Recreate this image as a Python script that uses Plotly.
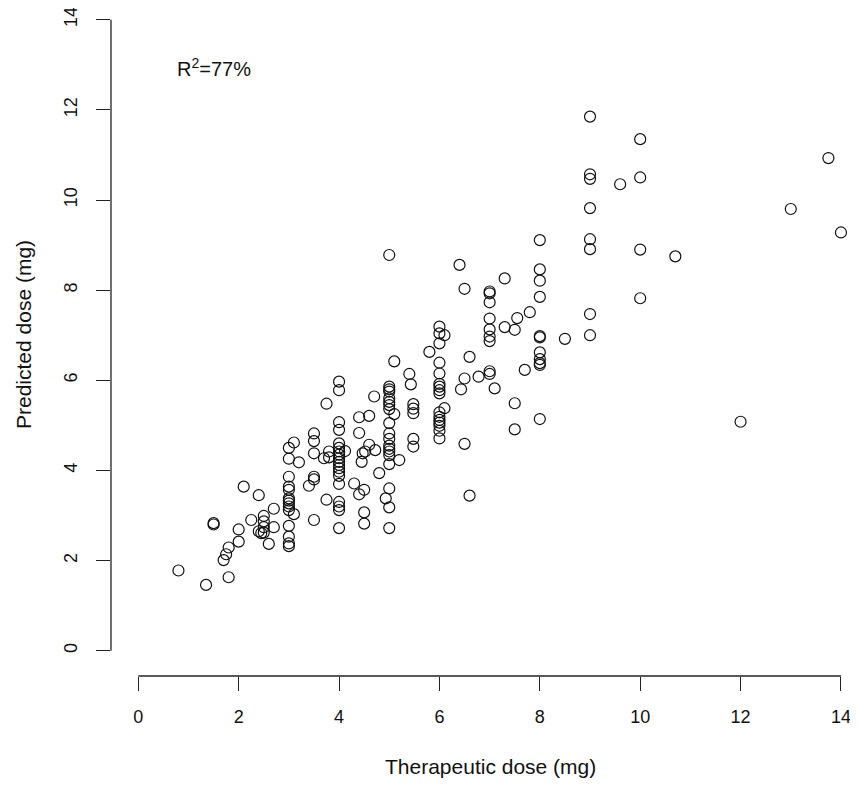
import plotly.graph_objects as go

# Therapeutic dose (mg) and predicted dose (mg)
therapeutic_dose = [
    0.8, 1.35, 1.8, 1.5, 1.5, 1.7, 1.75, 1.8, 2.0, 2.0, 2.1, 2.25, 2.4, 2.4, 2.45,
    2.5, 2.5, 2.5, 2.5, 2.6, 2.7, 2.7,
    3.0, 3.0, 3.0, 3.0, 3.0, 3.0, 3.0, 3.0, 3.0, 3.0, 3.0, 3.0, 3.0, 3.0,
    3.1, 3.2, 3.1,
    3.5, 3.5, 3.5, 3.5, 3.5, 3.5, 3.4,
    3.75, 3.75, 3.7, 3.8, 3.8,
    4.0, 4.0, 4.0, 4.0, 4.0, 4.0, 4.0, 4.0, 4.0, 4.0, 4.0, 4.0, 4.0, 4.0, 4.0,
    4.0, 4.0, 4.0, 4.0,
    4.12, 4.3, 4.4, 4.4, 4.4, 4.5, 4.5, 4.5, 4.8, 4.47, 4.52, 4.6, 4.72, 4.45,
    4.6, 4.7,
    5.0, 5.0, 5.0, 5.0, 5.0, 5.0, 5.0, 5.0, 5.0, 5.0, 5.0, 5.0, 5.0, 5.0, 5.0,
    5.0, 5.0, 5.0, 5.0, 4.93,
    5.1, 5.1, 5.2, 5.4, 5.43, 5.48, 5.48, 5.48, 5.48, 5.48, 5.8,
    6.0, 6.0, 6.0, 6.0, 6.0, 6.0, 6.0, 6.0, 6.0, 6.0, 6.0, 6.0, 6.0, 6.0, 6.0,
    6.0,
    6.1, 6.1, 6.43, 6.5, 6.4, 6.5, 6.6, 6.5, 6.6, 6.78,
    7.0, 7.0, 7.0, 7.0, 7.0, 7.0, 7.0, 7.0, 7.0,
    7.1, 7.3, 7.3, 7.5, 7.55, 7.8, 7.7, 7.5, 7.5,
    8.0, 8.0, 8.0, 8.0, 8.0, 8.0, 8.0, 8.0, 8.0, 8.0, 8.0,
    8.5,
    9.0, 9.0, 9.0, 9.0, 9.0, 9.0, 9.0, 9.0,
    9.6,
    10.0, 10.0, 10.0, 10.0,
    10.7, 12.0, 13.0, 13.75, 14.0,
]

predicted_dose = [
    1.78, 1.46, 1.63, 2.80, 2.83, 2.01, 2.14, 2.29, 2.42, 2.69, 3.64, 2.90, 3.45, 2.65, 2.61,
    2.62, 2.74, 2.87, 2.99, 2.37, 3.15, 2.74,
    4.50, 4.26, 3.86, 3.64, 3.57, 3.38, 3.33, 3.27, 3.20, 3.12, 2.77, 2.53, 2.38, 2.32,
    4.62, 4.18, 3.03,
    4.82, 4.65, 4.38, 3.86, 3.80, 2.90, 3.66,
    5.48, 3.35, 4.27, 4.29, 4.42,
    5.97, 5.78, 5.07, 4.90, 4.60, 4.50, 4.42, 4.35, 4.27, 4.19, 4.12, 4.05, 3.97, 3.88, 3.70,
    3.30, 3.20, 3.12, 2.72,
    4.43, 3.71, 5.18, 4.83, 3.47, 3.57, 3.07, 2.82, 3.94, 4.38, 4.42, 4.57, 4.45, 4.19,
    5.21, 5.64,
    8.78, 5.86, 5.80, 5.75, 5.60, 5.52, 5.45, 5.36, 5.05, 4.82, 4.70, 4.55, 4.48, 4.42, 4.34,
    4.14, 3.60, 3.18, 2.72, 3.38,
    6.42, 5.25, 4.23, 6.14, 5.91, 5.47, 5.37, 5.27, 4.70, 4.53, 6.63,
    7.19, 7.04, 6.82, 6.39, 6.15, 5.92, 5.86, 5.78, 5.71, 5.29, 5.19, 5.12, 5.06, 4.99, 4.88,
    4.71,
    7.00, 5.38, 5.80, 6.04, 8.56, 8.03, 6.52, 4.59, 3.44, 6.08,
    7.97, 7.93, 7.73, 7.37, 7.13, 6.97, 6.87, 6.20, 6.14,
    5.82, 8.26, 7.18, 7.12, 7.38, 7.51, 6.23, 5.49, 4.91,
    9.11, 8.46, 8.21, 7.85, 6.98, 6.95, 6.62, 6.47, 6.38, 6.34, 5.14,
    6.92,
    11.85, 10.57, 10.47, 9.82, 9.13, 8.91, 7.47, 7.00,
    10.35,
    11.35, 10.50, 8.90, 7.82,
    8.75, 5.08, 9.80, 10.93, 9.28,
]

tick_values = [0, 2, 4, 6, 8, 10, 12, 14]
tick_labels = ["0", "2", "4", "6", "8", "10", "12", "14"]
r2_label = "R<sup>2</sup>=77%"
x_title = "Therapeutic dose (mg)"
y_title = "Predicted dose (mg)"

FONT = "Liberation Sans, Arial, sans-serif"

# the page places the figure 8px in from the window's top-left corner
OFF = 8
W, H = 858 - OFF, 788 - OFF

# screen-pixel calibration of the reference (R-style axes with 4% padding)
left_px, bottom_px = 110.7 - OFF, 675.7 - OFF
x0_px, x_scale = 138.3 - OFF, 50.19
y0_px, y_scale = 650.7 - OFF, 45.07
ML = round(left_px)
MB = round(H - bottom_px)
plot_h = H - MB
x_range = [(ML - x0_px) / x_scale, (W - x0_px) / x_scale]
y_range = [-((H - MB) - y0_px) / y_scale, y0_px / y_scale]

fig = go.Figure()
fig.add_trace(go.Scatter(
    x=therapeutic_dose, y=predicted_dose, mode="markers",
    marker=dict(symbol="circle-open", size=11, color="#111111",
                line=dict(width=1.2, color="#111111")),
    showlegend=False, hoverinfo="x+y",
))

fig.update_layout(
    width=W, height=H,
    margin=dict(l=ML, r=0, t=0, b=MB, pad=0),
    plot_bgcolor="white", paper_bgcolor="white",
    font=dict(family=FONT, size=18, color="#111111"),
    xaxis=dict(range=x_range, showgrid=False, zeroline=False, showline=False,
               tickmode="array", tickvals=tick_values, ticktext=tick_labels,
               ticks="outside", ticklen=14, tickwidth=1.2, tickcolor="#222222",
               tickfont=dict(size=18, family=FONT, color="#111111"),
               ticklabelstandoff=10, ticklabeloverflow="allow"),
    yaxis=dict(range=y_range, showgrid=False, zeroline=False, showline=False,
               tickmode="array", tickvals=tick_values, ticktext=tick_labels,
               ticks="outside", ticklen=14, tickwidth=1.2, tickcolor="#222222",
               tickangle=-90,
               tickfont=dict(size=18, family=FONT, color="#111111"),
               ticklabelstandoff=12, ticklabeloverflow="allow"),
)

# R-style axis lines spanning only the first to last tick
fig.add_shape(type="line", xref="x", yref="paper", x0=tick_values[0], x1=tick_values[-1],
              y0=0, y1=0, line=dict(color="#222222", width=1.3))
fig.add_shape(type="line", xref="paper", yref="y", x0=0, x1=0,
              y0=tick_values[0], y1=tick_values[-1], line=dict(color="#222222", width=1.3))

# axis titles and R^2 label (positions in screen px converted to paper coords)
fig.add_annotation(text=x_title, xref="paper", yref="paper",
                   x=(490 - OFF - ML) / (W - ML), y=-(766.7 - OFF - plot_h) / plot_h,
                   xanchor="center", yanchor="middle", showarrow=False,
                   font=dict(size=21, family=FONT, color="#111111"))
fig.add_annotation(text=y_title, xref="paper", yref="paper",
                   x=-(ML - (23 - OFF)) / (W - ML), y=1 - (335 - OFF) / plot_h,
                   xanchor="center", yanchor="middle", showarrow=False, textangle=-90,
                   font=dict(size=21, family=FONT, color="#111111"))
fig.add_annotation(text=r2_label, xref="x", yref="y", x=1.5, y=12.95,
                   xanchor="center", yanchor="middle", showarrow=False,
                   font=dict(size=20, family=FONT, color="#111111"))

fig.write_html("out.html")
